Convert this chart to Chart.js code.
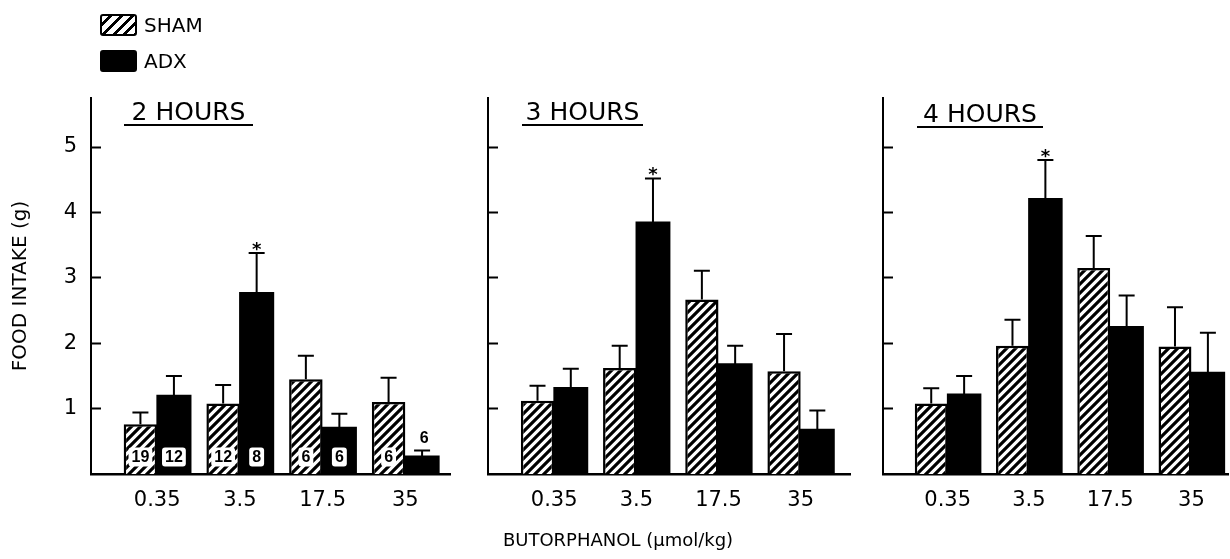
<!DOCTYPE html>
<html><head><meta charset="utf-8">
<script src="https://cdn.jsdelivr.net/npm/chart.js@4.4.1/dist/chart.umd.min.js"></script>
<style>
html,body{margin:0;padding:0;background:#fff;width:1230px;height:559px;overflow:hidden;font-family:"DejaVu Sans",sans-serif;color:#000}
.panel{position:absolute;top:0;height:559px}
.title{position:absolute;top:99px;height:25px;line-height:25px;font-size:25px;text-align:center;border-bottom:2px solid #000;white-space:nowrap;z-index:2}
.leg{position:absolute;left:100px;width:37px;height:22px;box-sizing:border-box;border:2px solid #000;border-radius:3px;z-index:2}
.legtxt{position:absolute;left:144px;font-size:20px;line-height:20px;z-index:2}
.xtitle{position:absolute;top:531px;left:418px;width:400px;text-align:center;font-size:18px;line-height:18px;z-index:2}
</style></head>
<body>
<div class="leg" style="top:14px;background:repeating-linear-gradient(135deg,#fff 0 4.6px,#000 4.6px 7.6px)"></div>
<div class="legtxt" style="top:15px">SHAM</div>
<div class="leg" style="top:50px;background:#000"></div>
<div class="legtxt" style="top:51px">ADX</div>

<div class="title" style="left:124px;width:129px">2 HOURS</div>
<div class="title" style="left:522px;width:121px">3 HOURS</div>
<div class="title" style="left:917px;width:126px;top:101px">4 HOURS</div>

<div class="panel" style="left:0;width:460px"><canvas id="c0"></canvas></div>
<div class="panel" style="left:460px;width:400px"><canvas id="c1"></canvas></div>
<div class="panel" style="left:860px;width:370px"><canvas id="c2"></canvas></div>

<div class="xtitle">BUTORPHANOL (μmol/kg)</div>

<script>
// ---- data ----
const doses = ['0.35', '3.5', '17.5', '35'];
const yTicks = [1, 2, 3, 4, 5];
const seriesNames = ['SHAM', 'ADX'];

const sham2h = [0.76, 1.08, 1.45, 1.10];
const shamSem2h = [0.18, 0.28, 0.36, 0.37];
const adx2h = [1.20, 2.77, 0.71, 0.27];
const adxSem2h = [0.30, 0.61, 0.21, 0.09];

const sham3h = [1.12, 1.62, 2.67, 1.57];
const shamSem3h = [0.23, 0.34, 0.44, 0.57];
const adx3h = [1.32, 3.85, 1.68, 0.68];
const adxSem3h = [0.29, 0.67, 0.28, 0.29];

const sham4h = [1.08, 1.96, 3.15, 1.95];
const shamSem4h = [0.23, 0.40, 0.49, 0.60];
const adx4h = [1.22, 4.21, 2.25, 1.55];
const adxSem4h = [0.28, 0.59, 0.48, 0.61];

const shamN = [19, 12, 6, 6];
const adxN = [12, 8, 6, 6];
const adxSignificant = [false, true, false, false];

// ---- rendering ----
function hatchPattern() {
  const s = 9, c = document.createElement('canvas');
  c.width = s; c.height = s;
  const g = c.getContext('2d');
  g.fillStyle = '#fff'; g.fillRect(0, 0, s, s);
  g.strokeStyle = '#000'; g.lineWidth = 3.2; g.lineCap = 'square';
  g.beginPath();
  g.moveTo(-2, s + 2); g.lineTo(s + 2, -2);
  g.moveTo(-2, 2); g.lineTo(2, -2);
  g.moveTo(s - 2, s + 2); g.lineTo(s + 2, s - 2);
  g.stroke();
  return g.createPattern(c, 'repeat');
}

const overlay = {
  id: 'overlay',
  afterDatasetsDraw(chart) {
    const ctx = chart.ctx, y = chart.scales.y;
    chart.data.datasets.forEach((ds, di) => {
      const meta = chart.getDatasetMeta(di);
      meta.data.forEach((bar, i) => {
        const mean = ds.data[i].y;
        const top = y.getPixelForValue(mean + ds.sem[i]);
        ctx.save();
        ctx.strokeStyle = '#000'; ctx.lineWidth = 2;
        ctx.beginPath();
        ctx.moveTo(bar.x, bar.y); ctx.lineTo(bar.x, top);
        ctx.moveTo(bar.x - 8, top); ctx.lineTo(bar.x + 8, top);
        ctx.stroke();
        if (ds.sig && ds.sig[i]) {
          ctx.fillStyle = '#000';
          ctx.font = 'bold 18px "DejaVu Sans"';
          ctx.textAlign = 'center'; ctx.textBaseline = 'alphabetic';
          ctx.fillText('*', bar.x, top + 2);
        }
        if (ds.nLabels) {
          const txt = String(ds.nLabels[i]);
          ctx.font = 'bold 16px "Liberation Sans"';
          ctx.textAlign = 'center'; ctx.textBaseline = 'middle';
          const h = bar.base - bar.y;
          if (h > 30) {
            const cy = bar.base - 17;
            const w = ctx.measureText(txt).width + 6;
            ctx.fillStyle = '#fff';
            ctx.beginPath();
            ctx.roundRect(bar.x - w / 2, cy - 9.5, w, 19, 3);
            ctx.fill();
            ctx.fillStyle = '#000';
            ctx.fillText(txt, bar.x, cy + 1);
          } else {
            ctx.fillStyle = '#000';
            ctx.fillText(txt, bar.x + 2, top - 12);
          }
        }
        ctx.restore();
      });
    });
  }
};

function makeChart(id, sham, shamSem, adx, adxSem, opts) {
  const pts = arr => arr.map((v, i) => ({ x: i, y: v }));
  const dsSham = {
    label: seriesNames[0], data: pts(sham), sem: shamSem,
    backgroundColor: hatchPattern(), borderColor: '#000', borderWidth: 2.5,
    borderSkipped: 'bottom'
  };
  const dsAdx = {
    label: seriesNames[1], data: pts(adx), sem: adxSem, sig: adxSignificant,
    backgroundColor: '#000', borderColor: '#000', borderWidth: 0, inflateAmount: 0.8
  };
  if (opts.nLabels) { dsSham.nLabels = shamN; dsAdx.nLabels = adxN; }
  return new Chart(document.getElementById(id), {
    type: 'bar',
    data: { datasets: [dsSham, dsAdx] },
    plugins: [overlay],
    options: {
      responsive: true, maintainAspectRatio: false, animation: false,
      categoryPercentage: 0.81, barPercentage: 1.0,
      layout: { padding: { top: 98, bottom: 35, left: 0, right: opts.right } },
      plugins: { legend: { display: false }, tooltip: { enabled: false } },
      scales: {
        x: {
          type: 'linear', min: opts.xmin, max: opts.xmax, offset: false,
          afterBuildTicks: s => { s.ticks = doses.map((d, i) => ({ value: i })); },
          afterFit: s => { s.height = 50; },
          ticks: {
            callback: v => doses[v], color: '#000', padding: 14, maxRotation: 0,
            font: { family: 'DejaVu Sans', size: 21 }
          },
          grid: { display: false, drawTicks: false },
          border: { display: true, color: '#000', width: 2.5 }
        },
        y: {
          min: 0, max: 5.75,
          afterBuildTicks: s => { s.ticks = yTicks.map(v => ({ value: v })); },
          afterFit: s => { s.width = opts.yWidth; },
          ticks: {
            display: opts.showYLabels, color: '#000', padding: 24,
            callback: v => String(v),
            font: { family: 'DejaVu Sans', size: 21 }
          },
          grid: {
            display: true, drawOnChartArea: false, drawTicks: true,
            tickLength: -10, tickWidth: 2, tickColor: '#000'
          },
          border: { display: true, color: '#000', width: 2 },
          title: {
            display: opts.showYLabels, text: 'FOOD INTAKE (g)', color: '#000',
            padding: { top: 9, bottom: 0 },
            font: { family: 'DejaVu Sans', size: 20, weight: 'normal' }
          }
        }
      }
    }
  });
}

makeChart('c0', sham2h, shamSem2h, adx2h, adxSem2h,
  { xmin: -0.80, xmax: 3.54, right: 10, yWidth: 91, showYLabels: true, nLabels: true });
makeChart('c1', sham3h, shamSem3h, adx3h, adxSem3h,
  { xmin: -0.805, xmax: 3.60, right: 10, yWidth: 28, showYLabels: false, nLabels: false });
makeChart('c2', sham4h, shamSem4h, adx4h, adxSem4h,
  { xmin: -0.796, xmax: 3.45, right: 2, yWidth: 23, showYLabels: false, nLabels: false });
</script>
</body></html>
